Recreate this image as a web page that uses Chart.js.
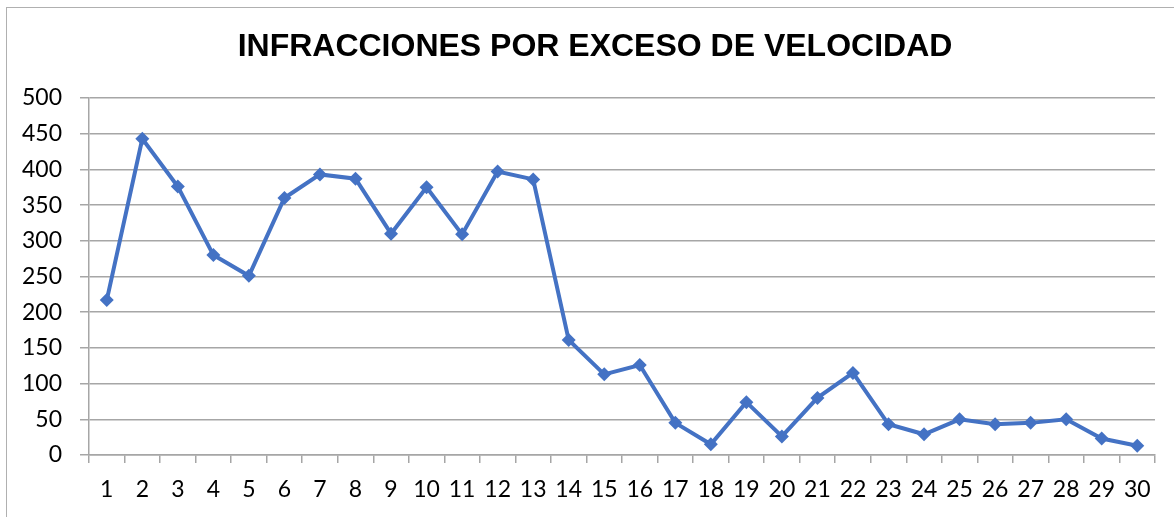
<!DOCTYPE html>
<html>
<head>
<meta charset="utf-8">
<script src="https://cdn.jsdelivr.net/npm/chart.js@4"></script>
<style>
  body { margin: 0; background: #fff; overflow: hidden; }
  #wrap { position: relative; width: 1174px; height: 517px; }
  #frame { position: absolute; left: 6px; top: 7px; width: 1200px; height: 600px; border: 1px solid #b0b0b0; }
  canvas { position: absolute; left: 0; top: 0; }
</style>
</head>
<body>
<div id="wrap">
  <div id="frame"></div>
  <canvas id="infChart" width="1174" height="517"></canvas>
</div>
<script>
const dias = ["1","2","3","4","5","6","7","8","9","10","11","12","13","14","15","16","17","18","19","20","21","22","23","24","25","26","27","28","29","30"];
const infracciones = [217, 443, 376, 280, 251, 360, 393, 387, 310, 375, 309, 397, 386, 161, 113, 126, 45, 15, 74, 26, 80, 115, 43, 29, 50, 43, 45, 50, 23, 13];
const tituloGrafico = "INFRACCIONES POR EXCESO DE VELOCIDAD";

const gris = "#a6a6a6";
const azul = "#4472C4";

// title drawn centred over the whole frame, like the spreadsheet chart
const tituloPlugin = {
  id: "tituloPlugin",
  afterDraw(c) {
    const g = c.ctx;
    g.save();
    g.font = "bold 32px 'Liberation Sans', Arial, sans-serif";
    g.fillStyle = "#000";
    g.textAlign = "center";
    g.textBaseline = "middle";
    g.fillText(tituloGrafico, 595, 47);
    g.restore();
  }
};

const ctx = document.getElementById("infChart").getContext("2d");
const chart = new Chart(ctx, {
  type: "line",
  data: {
    labels: dias,
    datasets: [{
      data: infracciones,
      borderColor: azul,
      backgroundColor: azul,
      borderWidth: 4,
      tension: 0,
      fill: false,
      pointStyle: "rectRot",
      pointRadius: 7,
      pointBorderWidth: 0,
      pointBackgroundColor: azul
    }]
  },
  plugins: [tituloPlugin],
  options: {
    responsive: false,
    animation: false,
    layout: { padding: { left: 0, right: 19, top: 98, bottom: 0 } },
    plugins: {
      legend: { display: false },
      tooltip: { enabled: false },
      title: { display: false }
    },
    scales: {
      x: {
        offset: true,
        grid: {
          offset: true,
          drawOnChartArea: false,
          drawTicks: true,
          tickLength: 8,
          color: gris,
          lineWidth: 1.5
        },
        border: { color: gris, width: 1.5 },
        ticks: {
          color: "#000",
          font: { family: "Lato, 'Open Sans', sans-serif", size: 23 },
          padding: 13,
          maxRotation: 0,
          autoSkip: false
        },
        afterFit: s => { s.height = 62; }
      },
      y: {
        min: 0,
        max: 500,
        grid: {
          color: gris,
          lineWidth: 1.5,
          drawTicks: true,
          tickLength: 9
        },
        border: { color: gris, width: 1.5 },
        ticks: {
          stepSize: 50,
          color: "#000",
          font: { family: "Lato, 'Open Sans', sans-serif", size: 23 },
          padding: 18
        },
        afterFit: s => { s.width = 89; }
      }
    }
  }
});
</script>
</body>
</html>
